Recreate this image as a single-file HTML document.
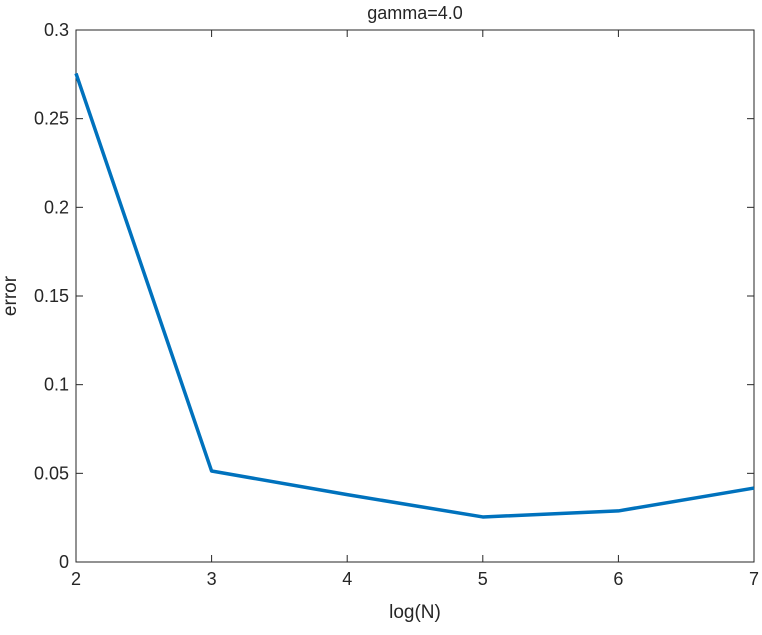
<!DOCTYPE html>
<html><head><meta charset="utf-8"><style>
body{margin:0;background:#fff;}
svg text{font-family:"Liberation Sans",Arial,sans-serif;fill:#262626;}
</style></head><body>
<svg id="chart" width="762" height="630" xmlns="http://www.w3.org/2000/svg">
<rect x="0" y="0" width="762" height="630" fill="#fff"/>
<text x="415" y="19" font-size="18" text-anchor="middle">gamma=4.0</text>
<text x="415" y="618" font-size="19" text-anchor="middle">log(N)</text>
<text transform="translate(16,296) rotate(-90)" font-size="19" text-anchor="middle">error</text>
</svg>
<script>
const xValues=[2,3,4,5,6,7];
const errorValues=[0.2755,0.0513,0.038,0.0254,0.0288,0.0417];
const xTicks=[2,3,4,5,6,7];
const yTicks=[0,0.05,0.1,0.15,0.2,0.25,0.3];
const yTickLabels=["0","0.05","0.1","0.15","0.2","0.25","0.3"];
const L=76,R=754,T=30,B=562;
const sx=v=>L+(v-2)/(7-2)*(R-L);
const sy=v=>B-(v/0.3)*(B-T);
const svg=document.getElementById('chart');
const NS='http://www.w3.org/2000/svg';
function mk(tag,attrs){const e=document.createElementNS(NS,tag);for(const k in attrs)e.setAttribute(k,attrs[k]);svg.appendChild(e);return e;}
const box=mk('rect',{x:L,y:T,width:R-L,height:B-T,fill:'none',stroke:'#262626','stroke-width':1});


xTicks.forEach(t=>{
  const x=sx(t);
  const l1=mk('line',{x1:x,x2:x,y1:B,y2:B-7,stroke:'#262626'});
  
  
  const l2=mk('line',{x1:x,x2:x,y1:T,y2:T+7,stroke:'#262626'});
  
  
  const tx=mk('text',{x:x,y:B+23,'font-size':18,'text-anchor':'middle'});
  tx.textContent=t;
  
  
});
yTicks.forEach((t,i)=>{
  const y=sy(t);
  const l1=mk('line',{x1:L,x2:L+7,y1:y,y2:y,stroke:'#262626'});
  
  
  const l2=mk('line',{x1:R,x2:R-7,y1:y,y2:y,stroke:'#262626'});
  
  
  const tx=mk('text',{x:L-7,y:y+6,'font-size':18,'text-anchor':'end'});
  tx.textContent=yTickLabels[i];
  
  
});
const pts=xValues.map((v,i)=>sx(v)+','+sy(errorValues[i])).join(' ');
const line=mk('polyline',{points:pts,fill:'none',stroke:'#0072BD','stroke-width':3.5,'stroke-linejoin':'round'});


</script>
</body></html>
